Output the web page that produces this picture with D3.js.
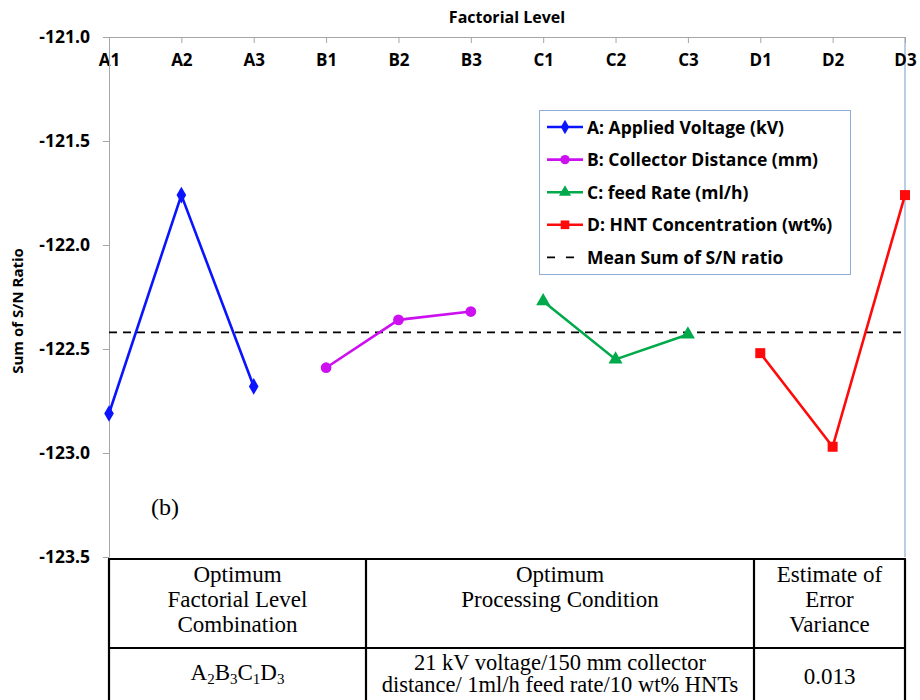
<!DOCTYPE html>
<html>
<head>
<meta charset="utf-8">
<script src="https://cdn.jsdelivr.net/npm/d3@7"></script>
<style>
  html, body { margin: 0; padding: 0; background: #fff; }
  svg { display: block; }
  .lab { font-family: "Open Sans", Lato, sans-serif; font-weight: bold; fill: #000; }
  .tbl { font-family: "Liberation Serif", "Times New Roman", serif; fill: #000; }
</style>
</head>
<body>
<svg id="chart" width="920" height="700"></svg>
<script>
// Factorial levels along the top axis
const levels = ["A1", "A2", "A3", "B1", "B2", "B3", "C1", "C2", "C3", "D1", "D2", "D3"];

// Sum of S/N ratio for each factor's three levels
const factorA = [-122.81, -121.76, -122.68];
const factorB = [-122.59, -122.36, -122.32];
const factorC = [-122.27, -122.55, -122.43];
const factorD = [-122.52, -122.97, -121.76];
const meanSN = -122.42;

const yTicks = [-121.0, -121.5, -122.0, -122.5, -123.0, -123.5];

const seriesNames = [
  "A: Applied Voltage (kV)",
  "B: Collector Distance (mm)",
  "C: feed Rate (ml/h)",
  "D: HNT Concentration (wt%)"
];
const meanName = "Mean Sum of S/N ratio";

const tableHeader = [
  ["Optimum", "Factorial Level", "Combination"],
  ["Optimum", "Processing Condition"],
  ["Estimate of", "Error", "Variance"]
];
const tableRow = [
  null,
  ["21 kV voltage/150 mm collector", "distance/ 1ml/h feed rate/10 wt% HNTs"],
  ["0.013"]
];
// Optimum combination written with subscripts: letter, level
const optimum = [["A", "2"], ["B", "3"], ["C", "1"], ["D", "3"]];

const series = [
  { name: seriesNames[0], values: factorA, levels: levels.slice(0, 3), color: "#0a14ff", marker: d3.symbolDiamond, size: 80 },
  { name: seriesNames[1], values: factorB, levels: levels.slice(3, 6), color: "#cc10f0", marker: d3.symbolCircle, size: 90 },
  { name: seriesNames[2], values: factorC, levels: levels.slice(6, 9), color: "#00aa4a", marker: d3.symbolTriangle, size: 85 },
  { name: seriesNames[3], values: factorD, levels: levels.slice(9, 12), color: "#ff0a0a", marker: d3.symbolSquare, size: 100 }
];

const svg = d3.select("#chart");
const plotL = 109, plotR = 905, plotT = 37, plotB = 557;

const x = d3.scalePoint().domain(levels).range([plotL, plotR]).padding(0);
const y = d3.scaleLinear().domain([-121.0, -123.5]).range([plotT, plotB]);

// Right-hand frame of the plot area
svg.append("line")
  .attr("x1", plotR).attr("x2", plotR).attr("y1", plotT).attr("y2", plotB)
  .attr("stroke", "#8eacd4").attr("stroke-width", 1.2);

// Top category axis
const xAxis = svg.append("g").attr("transform", `translate(0,${plotT})`)
  .call(d3.axisBottom(x).tickSize(6).tickPadding(11).tickSizeOuter(0));
xAxis.attr("font-family", null).attr("font-size", null);
xAxis.select(".domain").attr("stroke", "#a6a6a6");
xAxis.selectAll(".tick line").attr("stroke", "#a6a6a6");
xAxis.selectAll(".tick text").attr("class", "lab").style("font-size", "17px");

// Left value axis (plain hyphen for the minus sign)
const fmt = d => d.toFixed(1);
const yAxis = svg.append("g").attr("transform", `translate(${plotL},0)`)
  .call(d3.axisLeft(y).tickValues(yTicks).tickFormat(fmt).tickSize(6).tickPadding(13).tickSizeOuter(0));
yAxis.attr("font-family", null).attr("font-size", null);
yAxis.select(".domain").attr("stroke", "#a6a6a6");
yAxis.selectAll(".tick line").attr("stroke", "#a6a6a6");
yAxis.selectAll(".tick text").attr("class", "lab").style("font-size", "17.5px");

// Axis titles
svg.append("text").attr("class", "lab").attr("x", 507).attr("y", 23)
  .attr("text-anchor", "middle").style("font-size", "16px").text("Factorial Level");
svg.append("text").attr("class", "lab")
  .attr("transform", `translate(23,311) rotate(-90)`)
  .attr("text-anchor", "middle").style("font-size", "15px").text("Sum of S/N Ratio");

// Mean reference line
svg.append("line")
  .attr("x1", plotL).attr("x2", plotR).attr("y1", y(meanSN)).attr("y2", y(meanSN))
  .attr("stroke", "#000").attr("stroke-width", 1.6).attr("stroke-dasharray", "8,6");

// Factor response lines with markers
const line = d3.line().x(d => x(d.level)).y(d => y(d.value));
series.forEach(s => {
  const pts = s.values.map((v, i) => ({ level: s.levels[i], value: v }));
  svg.append("path").datum(pts).attr("d", line)
    .attr("fill", "none").attr("stroke", s.color).attr("stroke-width", 2.6);
  svg.append("g").selectAll("path").data(pts).join("path")
    .attr("transform", d => `translate(${x(d.level)},${y(d.value)})`)
    .attr("d", d3.symbol().type(s.marker).size(s.size))
    .attr("fill", s.color);
});

// Legend
const lg = svg.append("g");
lg.append("rect").attr("x", 539.5).attr("y", 110.5).attr("width", 311).attr("height", 164)
  .attr("fill", "#fff").attr("stroke", "#8eacd4").attr("stroke-width", 1);
series.forEach((s, i) => {
  const cy = 127 + i * 32.6;
  lg.append("line").attr("x1", 547).attr("x2", 583).attr("y1", cy).attr("y2", cy)
    .attr("stroke", s.color).attr("stroke-width", 2.6);
  lg.append("path").attr("transform", `translate(565,${cy})`)
    .attr("d", d3.symbol().type(s.marker).size(s.size * 0.75)).attr("fill", s.color);
  lg.append("text").attr("class", "lab").attr("x", 587).attr("y", cy + 6.5)
    .style("font-size", "17.5px").text(s.name);
});
{
  const cy = 127 + 4 * 32.6;
  lg.append("line").attr("x1", 547).attr("x2", 583).attr("y1", cy).attr("y2", cy)
    .attr("stroke", "#000").attr("stroke-width", 1.6).attr("stroke-dasharray", "8,11");
  lg.append("text").attr("class", "lab").attr("x", 587).attr("y", cy + 6.5)
    .style("font-size", "17.5px").text(meanName);
}

// Panel tag
svg.append("text").attr("class", "tbl").attr("x", 151).attr("y", 515)
  .style("font-size", "24px").text("(b)");

// Summary table below the plot
const colEdges = [109, 366, 754, 905];
const rowEdges = [559, 648, 712];
const tg = svg.append("g");
tg.append("rect").attr("x", colEdges[0]).attr("y", rowEdges[0])
  .attr("width", colEdges[3] - colEdges[0]).attr("height", 200).attr("fill", "#fff");
[rowEdges[0], rowEdges[1]].forEach(ry => {
  tg.append("line").attr("x1", colEdges[0] - 1).attr("x2", colEdges[3] + 1).attr("y1", ry).attr("y2", ry)
    .attr("stroke", "#000").attr("stroke-width", 2.2);
});
colEdges.forEach(cx => {
  tg.append("line").attr("x1", cx).attr("x2", cx).attr("y1", rowEdges[0]).attr("y2", rowEdges[2])
    .attr("stroke", "#000").attr("stroke-width", 2.2);
});
const colMid = i => (colEdges[i] + colEdges[i + 1]) / 2;
tableHeader.forEach((lines, i) => {
  lines.forEach((t, j) => {
    tg.append("text").attr("class", "tbl").attr("x", colMid(i)).attr("y", 582 + j * 25)
      .attr("text-anchor", "middle").style("font-size", "23px").text(t);
  });
});
tableRow.forEach((lines, i) => {
  if (!lines) return;
  const single = lines.length === 1;
  lines.forEach((t, j) => {
    tg.append("text").attr("class", "tbl").attr("x", colMid(i))
      .attr("y", single ? 684 : 670 + j * 22)
      .attr("text-anchor", "middle").style("font-size", single ? "23px" : "22.5px").text(t);
  });
});
const comb = tg.append("text").attr("class", "tbl").attr("x", colMid(0)).attr("y", 680)
  .attr("text-anchor", "middle").style("font-size", "23px");
optimum.forEach(([letter, sub], i) => {
  comb.append("tspan").attr("dy", i === 0 ? 0 : -4).text(letter);
  comb.append("tspan").attr("dy", 4).style("font-size", "15px").text(sub);
});
</script>
</body>
</html>
